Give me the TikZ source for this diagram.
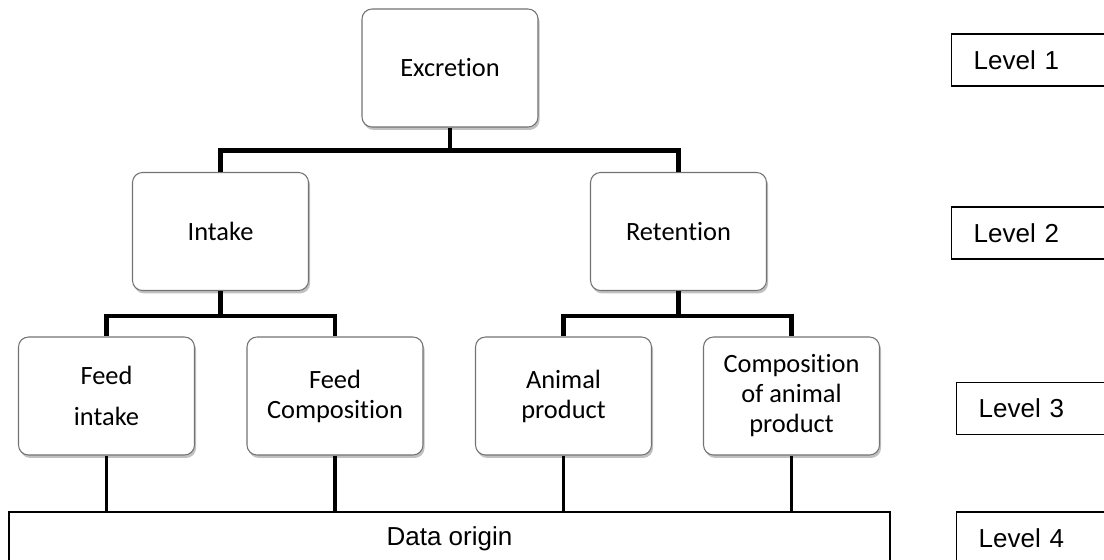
\documentclass[tikz,border=0pt]{standalone}
\usepackage{fontspec}
\setmainfont{Carlito}[Ligatures=NoCommon]
\newfontfamily\arialf{Liberation Sans}
\usepackage{tikz}
\usetikzlibrary{shadows}

\begin{document}
\begin{tikzpicture}[x=0.75pt,y=-0.75pt,
  bx/.style={draw=black!55,line width=0.8pt,rounded corners=7.5pt,fill=white,
    minimum width=132pt,minimum height=88.5pt,align=center,
    font=\fontsize{19.8}{22.5}\selectfont,
    drop shadow={shadow xshift=1.2pt,shadow yshift=-2.2pt,fill=black!35,opacity=0.7}},
  lv/.style={draw,line width=1.1pt,anchor=west,minimum height=39pt,
    text width=150pt,inner xsep=16.5pt,align=left,
    font=\arialf\fontsize{19.5}{23}\selectfont},
  cn/.style={line width=3.5pt},
  cs/.style={line width=2.8pt}]
\useasboundingbox (0,0) rectangle (1104,560);
\clip (0,0) rectangle (1104,560);
% hierarchy
\node[bx] (exc) at (450,68) {Excretion};
\node[bx] (int) at (220.5,231.5) {Intake};
\node[bx] (ret) at (678.5,231.5) {Retention};
\node[bx] (fi) at (106.5,396) {Feed\\[8pt]intake};
\node[bx] (fc) at (335,396) {Feed\\Composition};
\node[bx] (ap) at (563.5,396) {Animal\\product};
\node[bx] (ca) at (791.5,396) {Composition\\of animal\\product};
\node[draw,line width=1.1pt,minimum width=660.75pt,minimum height=40.5pt,
  font=\arialf\fontsize{19.5}{23}\selectfont] (org) at (449.5,539) {Data origin};
\draw[cn] (exc.south) -- ++(0,23) -| (int.north);
\draw[cn] (exc.south) -- ++(0,23) -| (ret.north);
\draw[cn] (int.south) -- ++(0,25) -| (fi.north);
\draw[cn] (int.south) -- ++(0,25) -| (fc.north);
\draw[cn] (ret.south) -- ++(0,25) -| (ap.north);
\draw[cn] (ret.south) -- ++(0,25) -| (ca.north);
\foreach \n in {fi,fc,ap,ca}
  \draw[cs] (\n.south) -- (\n.south |- org.north);
% levels
\node[lv] (l1) at (951,60) {Level 1};
\node[lv] (l2) at (951,233) {Level 2};
\node[lv] (l3) at (956,408.5) {Level 3};
\node[lv] (l4) at (956,538) {Level 4};
\end{tikzpicture}
\end{document}
